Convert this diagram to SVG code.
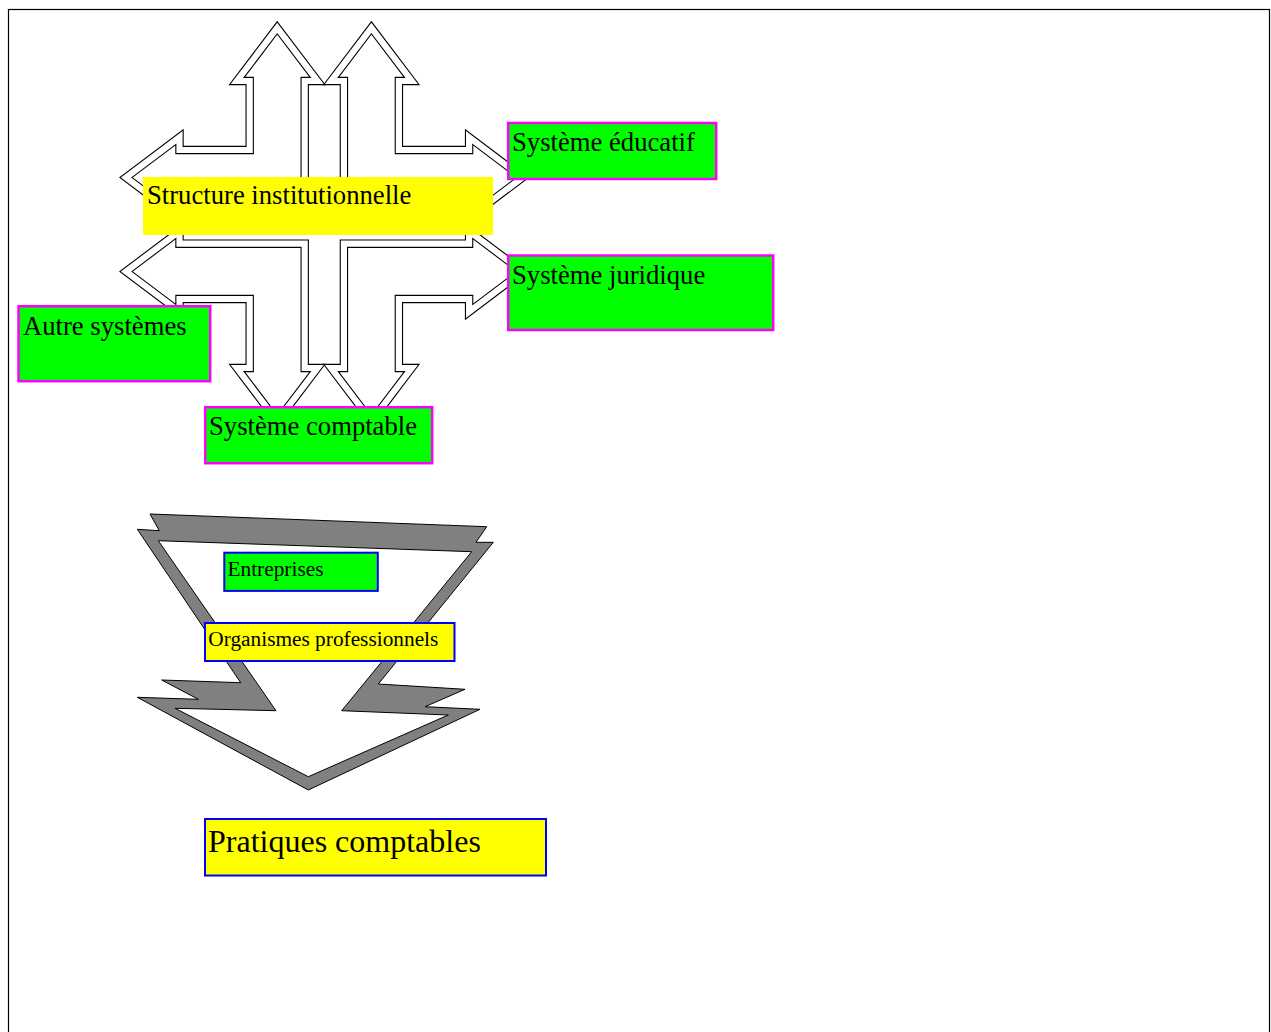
<svg xmlns="http://www.w3.org/2000/svg" xmlns:xlink="http://www.w3.org/1999/xlink" width="1271" height="1032" viewBox="0 0 1271 1032">
<style>
.t{font-family:"Liberation Serif","Times New Roman",serif;fill:#000}
.big{font-size:26.67px}
.mid{font-size:21.33px}
.lg{font-size:32px}
.gbox{fill:#00ff00;stroke:#ff00ff;stroke-width:2.5}
.ybox{fill:#ffff00;stroke:#0000ff;stroke-width:2}
.bbox{fill:#00ff00;stroke:#0000ff;stroke-width:2}
.dblk{fill:#fff;stroke:#000;stroke-width:8.4;stroke-linejoin:miter;stroke-miterlimit:12}
.dwht{fill:none;stroke:#fff;stroke-width:6.2;stroke-linejoin:miter;stroke-miterlimit:12}
</style>
<defs>
<path id="aTL" d="M277.2,27.8 L317.5,81 L304.7,81 L304.7,205.3 L179.5,205.3 L179.5,217.8 L126,177.5 L179.5,137.2 L179.5,150 L249.7,150 L249.7,81 L236.9,81 Z"/>
<path id="aTR" d="M371.4,27.8 L331.1,81 L343.9,81 L343.9,205.3 L469.1,205.3 L469.1,217.8 L522.6,177.5 L469.1,137.2 L469.1,150 L398.9,150 L398.9,81 L411.7,81 Z"/>
<path id="aBL" d="M277.2,421.2 L317.5,368 L304.7,368 L304.7,243.7 L179.5,243.7 L179.5,231.2 L126,271.5 L179.5,311.8 L179.5,299 L249.7,299 L249.7,368 L236.9,368 Z"/>
<path id="aBR" d="M371.4,421.2 L331.1,368 L343.9,368 L343.9,243.7 L469.1,243.7 L469.1,231.2 L522.6,271.5 L469.1,311.8 L469.1,299 L398.9,299 L398.9,368 L411.7,368 Z"/>
</defs>
<rect x="0" y="0" width="1271" height="1032" fill="#fff"/>
<rect id="frame" x="8.5" y="9.5" width="1261" height="1040" fill="none" stroke="#000" stroke-width="1.2"/>

<g id="connectors">
<g id="cross-arrows-outline">
<use xlink:href="#aTL" class="dblk"/>
<use xlink:href="#aTR" class="dblk"/>
<use xlink:href="#aBL" class="dblk"/>
<use xlink:href="#aBR" class="dblk"/>
</g>
<g id="cross-arrows-gap">
<use xlink:href="#aTL" class="dwht"/>
<use xlink:href="#aTR" class="dwht"/>
<use xlink:href="#aBL" class="dwht"/>
<use xlink:href="#aBR" class="dwht"/>
</g>
<path id="funnel-arrow" fill="#808080" fill-rule="evenodd" stroke="#000" stroke-width="1" stroke-linejoin="miter"
 d="M150,514 L486.7,526.7 L476,542.3 L493.3,542.3 L378.3,684 L465,689.3 L425,706.7 L480,709.3 L308.3,790 L137.3,697.3 L198.3,699.3 L161.7,680 L240.7,682.7 L137.3,529.3 L159.3,530.7 Z
 M158.3,540.7 L471.7,551.7 L341.7,710.7 L448.3,715 L308.3,776.7 L175,708.3 L276,710.7 Z"/>
</g>

<g id="structure">
<rect x="143" y="177" width="350" height="58" fill="#ffff00"/>
<text class="t big" x="147" y="204">Structure institutionnelle</text>
</g>
<g id="educatif">
<rect class="gbox" x="508.2" y="123" width="208" height="56"/>
<text class="t big" x="512" y="151">Système éducatif</text>
</g>
<g id="juridique">
<rect class="gbox" x="508.2" y="255.5" width="265" height="74.5"/>
<text class="t big" x="512" y="283.5">Système juridique</text>
</g>
<g id="autre">
<rect class="gbox" x="18.5" y="306.2" width="191.7" height="75"/>
<text class="t big" x="23" y="335">Autre systèmes</text>
</g>
<g id="comptable">
<rect class="gbox" x="205.2" y="407.2" width="227" height="56"/>
<text class="t big" x="209" y="435">Système comptable</text>
</g>
<g id="entreprises">
<rect class="bbox" x="224.3" y="552.7" width="153.5" height="38.2"/>
<text class="t mid" x="227.5" y="576">Entreprises</text>
</g>
<g id="organismes">
<rect class="ybox" x="205" y="623" width="249.5" height="38"/>
<text class="t mid" x="208.3" y="646">Organismes professionnels</text>
</g>
<g id="pratiques">
<rect class="ybox" x="205" y="819" width="341" height="56.5"/>
<text class="t lg" x="208" y="852">Pratiques comptables</text>
</g>
</svg>
